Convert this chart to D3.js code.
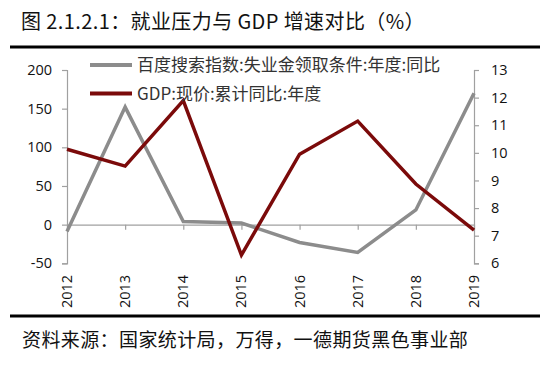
<!DOCTYPE html>
<html>
<head>
<meta charset="utf-8">
<script src="https://cdn.jsdelivr.net/npm/d3@7"></script>
<style>
  body { margin: 0; background: #fff; }
  svg { display: block; }
</style>
</head>
<body>
<div id="chart"></div>
<script>
// data
const years = ["2012", "2013", "2014", "2015", "2016", "2017", "2018", "2019"];
const searchIdx = [-9, 152, 4, 2, -23, -36, 19, 170];     // left axis
const gdpGrowth = [10.13, 9.52, 11.89, 6.3, 9.95, 11.15, 8.87, 7.2]; // right axis
const leftTicks = [-50, 0, 50, 100, 150, 200];
const rightTicks = [6, 7, 8, 9, 10, 11, 12, 13];
const seriesNames = ["百度搜索指数:失业金领取条件:年度:同比", "GDP:现价:累计同比:年度"];

const W = 550, H = 366;
const cfg = {
  left: 67, right: 474, top: 70, bottom: 263.3,
  grey: "#8c8c8c", red: "#7b0a0a", axis: "#a0a0a0",
  cjk: "'Noto Sans CJK SC', 'Noto Sans', sans-serif",
  num: "'Open Sans', 'Liberation Sans', sans-serif"
};

const svg = d3.select("#chart").append("svg")
  .attr("width", W).attr("height", H);

// title and rules
svg.append("text")
  .attr("x", 21).attr("y", 29)
  .style("font-family", cfg.cjk).style("font-size", "20px")
  .style("letter-spacing", "0.4px").attr("fill", "#111")
  .text("图 2.1.2.1：就业压力与 GDP 增速对比（%）");

svg.append("line").attr("x1", 10).attr("x2", 540).attr("y1", 47).attr("y2", 47)
  .attr("stroke", "#000").attr("stroke-width", 3);
svg.append("line").attr("x1", 10).attr("x2", 540).attr("y1", 316).attr("y2", 316)
  .attr("stroke", "#000").attr("stroke-width", 3);

svg.append("text")
  .attr("x", 22).attr("y", 347)
  .style("font-family", cfg.cjk).style("font-size", "19px")
  .style("letter-spacing", "0.4px").attr("fill", "#111")
  .text("资料来源：国家统计局，万得，一德期货黑色事业部");

// scales
const x = d3.scalePoint().domain(years).range([cfg.left, cfg.right]);
const yL = d3.scaleLinear().domain([-50, 200]).range([cfg.bottom, cfg.top]);
const yR = d3.scaleLinear().domain([6, 13]).range([cfg.bottom, cfg.top]);
const fmt = d => String(d);

function styleAxis(g) {
  g.select(".domain").attr("stroke", cfg.axis).attr("stroke-width", 1.2);
  g.selectAll(".tick line").attr("stroke", cfg.axis).attr("stroke-width", 1.2);
  g.selectAll(".tick text").attr("fill", "#111")
    .style("font-family", cfg.num).style("font-size", "14.5px");
}

// left axis
svg.append("g")
  .attr("transform", "translate(" + cfg.left + ",0)")
  .call(d3.axisLeft(yL).tickValues(leftTicks).tickFormat(fmt)
    .tickSize(5).tickSizeOuter(5).tickPadding(10))
  .call(styleAxis);

// right axis
svg.append("g")
  .attr("transform", "translate(" + cfg.right + ",0)")
  .call(d3.axisRight(yR).tickValues(rightTicks).tickFormat(fmt)
    .tickSize(5).tickSizeOuter(5).tickPadding(12))
  .call(styleAxis);

// category axis along zero
svg.append("g")
  .attr("transform", "translate(0," + yL(0) + ")")
  .call(d3.axisBottom(x).tickSize(5).tickSizeOuter(0).tickFormat(""))
  .call(styleAxis);

// rotated year labels at the bottom
svg.append("g").selectAll("text")
  .data(years)
  .join("text")
  .attr("transform", d => "translate(" + (x(d) + 5) + ",308) rotate(-90)")
  .attr("fill", "#111")
  .style("font-family", cfg.num).style("font-size", "14.5px")
  .text(d => d);

// lines
const lineL = d3.line().x((d, i) => x(years[i])).y(d => yL(d));
const lineR = d3.line().x((d, i) => x(years[i])).y(d => yR(d));

svg.append("path").datum(searchIdx)
  .attr("d", lineL).attr("fill", "none")
  .attr("stroke", cfg.grey).attr("stroke-width", 3.5).attr("stroke-linejoin", "miter");

svg.append("path").datum(gdpGrowth)
  .attr("d", lineR).attr("fill", "none")
  .attr("stroke", cfg.red).attr("stroke-width", 3.5).attr("stroke-linejoin", "miter");

// legend
const legend = svg.append("g");
const colors = [cfg.grey, cfg.red];
seriesNames.forEach((name, i) => {
  const ly = 65 + i * 28.5;
  legend.append("line")
    .attr("x1", 90).attr("x2", 132).attr("y1", ly).attr("y2", ly)
    .attr("stroke", colors[i]).attr("stroke-width", 4);
  legend.append("text")
    .attr("x", 137).attr("y", ly + 6)
    .attr("fill", "#333")
    .style("font-family", cfg.cjk).style("font-size", "17px")
    .text(name);
});
</script>
</body>
</html>
